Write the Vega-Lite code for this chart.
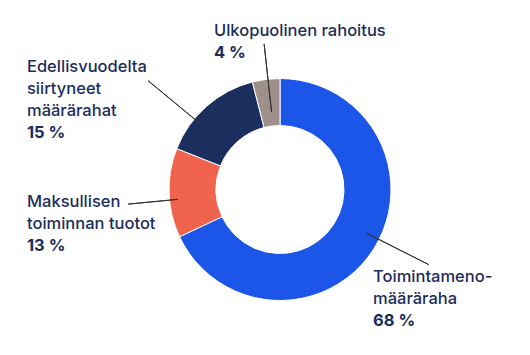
{
  "$schema": "https://vega.github.io/schema/vega-lite/v6.json",
  "width": 500,
  "height": 331,
  "autosize": {"type": "none"},
  "padding": {"left": 30, "top": 24, "right": 0, "bottom": 0},
  "background": "white",
  "config": {"view": {"stroke": null}, "text": {"font": "Inter"}},
  "data": {
    "values": [
      {"k": 1, "cat": "Toimintamenomääräraha", "name": "Toimintameno-\nmääräraha", "pct": "68 %", "value": 68},
      {"k": 2, "cat": "Maksullisen toiminnan tuotot", "name": "Maksullisen\ntoiminnan tuotot", "pct": "13 %", "value": 13},
      {"k": 3, "cat": "Edellisvuodelta siirtyneet määrärahat", "name": "Edellisvuodelta\nsiirtyneet\nmäärärahat", "pct": "15 %", "value": 15},
      {"k": 4, "cat": "Ulkopuolinen rahoitus", "name": "Ulkopuolinen rahoitus", "pct": "4 %", "value": 4}
    ]
  },
  "encoding": {
    "theta": {"field": "value", "type": "quantitative", "stack": true},
    "order": {"field": "k", "type": "quantitative"}
  },
  "layer": [
    {
      "mark": {"type": "arc", "outerRadius": 111, "innerRadius": 64, "stroke": "white", "strokeWidth": 1},
      "encoding": {
        "color": {
          "field": "cat", "type": "nominal", "legend": null,
          "scale": {
            "domain": ["Toimintamenomääräraha", "Maksullisen toiminnan tuotot", "Edellisvuodelta siirtyneet määrärahat", "Ulkopuolinen rahoitus"],
            "range": ["#1b56e8", "#f0634e", "#1b2f5e", "#a0908a"]
          }
        }
      }
    },
    {
      "mark": {"type": "arc", "innerRadius": 97, "outerRadius": 166.5, "thetaOffset": -2.2341, "theta2Offset": -2.2341, "fillOpacity": 0, "stroke": "#333", "strokeWidth": 1},
      "encoding": {
        "theta": {"field": "value", "type": "quantitative", "stack": null},
        "theta2": {"field": "value"},
        "strokeOpacity": {"condition": {"test": "datum.k === 1", "value": 1}, "value": 0}
      }
    },
    {
      "mark": {"type": "arc", "padAngle": 3, "innerRadius": 102.7, "outerRadius": 152.5, "thetaOffset": -0.0646, "theta2Offset": -0.0646, "fillOpacity": 0, "stroke": "#333", "strokeWidth": 1},
      "encoding": {"strokeOpacity": {"condition": {"test": "datum.k === 2", "value": 1}, "value": 0}}
    },
    {
      "mark": {"type": "arc", "padAngle": 3, "innerRadius": 102, "outerRadius": 171, "thetaOffset": -0.1588, "theta2Offset": -0.1588, "fillOpacity": 0, "stroke": "#333", "strokeWidth": 1},
      "encoding": {"strokeOpacity": {"condition": {"test": "datum.k === 3", "value": 1}, "value": 0}}
    },
    {
      "mark": {"type": "arc", "padAngle": 3, "innerRadius": 78, "outerRadius": 146.5, "thetaOffset": 0.017, "theta2Offset": 0.017, "fillOpacity": 0, "stroke": "#333", "strokeWidth": 1},
      "encoding": {"strokeOpacity": {"condition": {"test": "datum.k === 4", "value": 1}, "value": 0}}
    },
    {
      "mark": {"type": "text", "radius": 170, "dx": -50.5, "dy": 1.4, "align": "left", "baseline": "alphabetic", "lineBreak": "\n", "lineHeight": 22, "fontSize": 16.5, "fontWeight": 500, "color": "#1b2d5b"},
      "encoding": {"text": {"field": "name"}, "opacity": {"condition": {"test": "datum.k === 1", "value": 1}, "value": 0}}
    },
    {
      "mark": {"type": "text", "radius": 170, "dx": -50.5, "dy": 45.4, "align": "left", "baseline": "alphabetic", "fontSize": 16.5, "fontWeight": 700, "color": "#1b2d5b"},
      "encoding": {"text": {"field": "pct"}, "opacity": {"condition": {"test": "datum.k === 1", "value": 1}, "value": 0}}
    },
    {
      "mark": {"type": "text", "radius": 160, "dx": -93.1, "dy": 12.5, "align": "left", "baseline": "alphabetic", "lineBreak": "\n", "lineHeight": 22, "fontSize": 16.5, "fontWeight": 500, "color": "#1b2d5b"},
      "encoding": {"text": {"field": "name"}, "opacity": {"condition": {"test": "datum.k === 2", "value": 1}, "value": 0}}
    },
    {
      "mark": {"type": "text", "radius": 160, "dx": -93.1, "dy": 56.5, "align": "left", "baseline": "alphabetic", "fontSize": 16.5, "fontWeight": 700, "color": "#1b2d5b"},
      "encoding": {"text": {"field": "pct"}, "opacity": {"condition": {"test": "datum.k === 2", "value": 1}, "value": 0}}
    },
    {
      "mark": {"type": "text", "radius": 175, "dx": -137.3, "dy": 13.8, "align": "left", "baseline": "alphabetic", "lineBreak": "\n", "lineHeight": 22, "fontSize": 16.5, "fontWeight": 500, "color": "#1b2d5b"},
      "encoding": {"text": {"field": "name"}, "opacity": {"condition": {"test": "datum.k === 3", "value": 1}, "value": 0}}
    },
    {
      "mark": {"type": "text", "radius": 175, "dx": -137.3, "dy": 79.8, "align": "left", "baseline": "alphabetic", "fontSize": 16.5, "fontWeight": 700, "color": "#1b2d5b"},
      "encoding": {"text": {"field": "pct"}, "opacity": {"condition": {"test": "datum.k === 3", "value": 1}, "value": 0}}
    },
    {
      "mark": {"type": "text", "radius": 150, "dx": -47.2, "dy": -4.9, "align": "left", "baseline": "alphabetic", "fontSize": 16.5, "fontWeight": 500, "color": "#1b2d5b"},
      "encoding": {"text": {"field": "name"}, "opacity": {"condition": {"test": "datum.k === 4", "value": 1}, "value": 0}}
    },
    {
      "mark": {"type": "text", "radius": 150, "dx": -47.2, "dy": 17.1, "align": "left", "baseline": "alphabetic", "fontSize": 16.5, "fontWeight": 700, "color": "#1b2d5b"},
      "encoding": {"text": {"field": "pct"}, "opacity": {"condition": {"test": "datum.k === 4", "value": 1}, "value": 0}}
    }
  ]
}
